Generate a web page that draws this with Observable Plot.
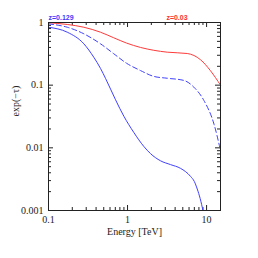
<!DOCTYPE html>
<html>
<head>
<meta charset="utf-8">
<script src="https://cdn.jsdelivr.net/npm/d3@7"></script>
<script src="https://cdn.jsdelivr.net/npm/@observablehq/plot@0.6"></script>
<style>
html,body{margin:0;padding:0;background:#fff;}
</style>
</head>
<body>
<div id="chart"></div>
<script>
// z = 0.03 (red, solid)
const redEnergy = [0.1, 0.173, 0.28, 0.455, 0.67, 0.97, 1.46, 2.15, 3.18, 5.7, 8.4, 11.2, 15];
const redValue  = [0.99, 0.93, 0.84, 0.70, 0.57, 0.47, 0.40, 0.36, 0.336, 0.32, 0.254, 0.17, 0.10];
// z = 0.129 (blue, dashed)
const dashEnergy = [0.1, 0.173, 0.28, 0.455, 0.67, 0.97, 1.46, 2.15, 3.18, 5.17, 6.9, 9.25, 12.4, 15];
const dashValue  = [0.95, 0.84, 0.66, 0.457, 0.317, 0.224, 0.171, 0.138, 0.129, 0.119, 0.093, 0.057, 0.024, 0.0091];
// z = 0.129 (blue, solid)
const blueEnergy = [0.1, 0.173, 0.28, 0.374, 0.455, 0.527, 0.61, 0.705, 0.90, 1.20, 1.61, 1.95, 2.62, 3.50, 4.69, 6.27, 7.0, 7.62, 8.3, 9.0];
const blueValue  = [0.84, 0.70, 0.457, 0.279, 0.185, 0.128, 0.0865, 0.0585, 0.0318, 0.0176, 0.0105, 0.0081, 0.0062, 0.0054, 0.0047, 0.0035, 0.0029, 0.0022, 0.00155, 0.001];

const xMajor = [0.1, 1, 10];
const xMinor = [0.2,0.3,0.4,0.5,0.6,0.7,0.8,0.9,2,3,4,5,6,7,8,9];
const yMajor = [0.001, 0.01, 0.1, 1];
const yMinor = [0.002,0.003,0.004,0.005,0.006,0.007,0.008,0.009,0.02,0.03,0.04,0.05,0.06,0.07,0.08,0.09,0.2,0.3,0.4,0.5,0.6,0.7,0.8,0.9];

const labels = [
  {x: 0.1, y: 1, text: "z=0.129", color: "#3b3bff"},
  {x: 3.1, y: 1, text: "z=0.03", color: "#ff3030"}
];

const W = 258, H = 258, mL = 48, mR = 38, mT = 22, mB = 48;
const iH = H - mT - mB, iW = W - mL - mR;
const majLen = 5, minLen = 3;

const mk = (E, V) => E.map((e, i) => ({e, v: V[i]}));
const red = mk(redEnergy, redValue), dash = mk(dashEnergy, dashValue), blue = mk(blueEnergy, blueValue);

const plot = Plot.plot({
  width: W, height: H,
  marginLeft: mL, marginRight: mR, marginTop: mT, marginBottom: mB,
  style: {fontFamily: "'Liberation Serif', serif", fontSize: "10px", background: "#fff", color: "#222"},
  x: {type: "log", domain: [0.1, 15]},
  y: {type: "log", domain: [0.001, 1]},
  marks: [
    Plot.axisX(xMajor, {tickSize: 0, tickPadding: 5, tickFormat: d => String(d), label: null}),
    Plot.axisY(yMajor, {tickSize: 0, tickPadding: 5, tickFormat: d => String(d), label: null}),
    // inward ticks bottom/top
    Plot.tickX(xMajor, {x: d => d, insetTop: iH - majLen, stroke: "#222"}),
    Plot.tickX(xMinor, {x: d => d, insetTop: iH - minLen, stroke: "#222"}),
    Plot.tickX(xMajor, {x: d => d, insetBottom: iH - majLen, stroke: "#222"}),
    Plot.tickX(xMinor, {x: d => d, insetBottom: iH - minLen, stroke: "#222"}),
    // inward ticks left/right
    Plot.tickY(yMajor, {y: d => d, insetRight: iW - majLen, stroke: "#222"}),
    Plot.tickY(yMinor, {y: d => d, insetRight: iW - minLen, stroke: "#222"}),
    Plot.tickY(yMajor, {y: d => d, insetLeft: iW - majLen, stroke: "#222"}),
    Plot.tickY(yMinor, {y: d => d, insetLeft: iW - minLen, stroke: "#222"}),
    Plot.line(red, {x: "e", y: "v", stroke: "#ff3a3a", strokeWidth: 1, curve: "monotone-x"}),
    Plot.line(dash, {x: "e", y: "v", stroke: "#4040ff", strokeWidth: 1, strokeDasharray: "5,3", curve: "monotone-x"}),
    Plot.line(blue, {x: "e", y: "v", stroke: "#4040ff", strokeWidth: 1, curve: "monotone-x"}),
    Plot.frame({stroke: "#222", strokeWidth: 1}),
    Plot.text(labels, {x: "x", y: "y", text: "text", fill: "color", textAnchor: "start", dy: -5,
      fontFamily: "'Liberation Sans', sans-serif", fontSize: 7, fontWeight: "bold"}),
    Plot.text(["Energy [TeV]"], {frameAnchor: "bottom", lineAnchor: "middle", dy: 21, fontSize: 10, fill: "#222"}),
    Plot.text(["exp(−τ)"], {frameAnchor: "left", dx: -33, rotate: -90, fontSize: 10, fill: "#222"})
  ]
});
document.getElementById("chart").appendChild(plot);
</script>
</body>
</html>
